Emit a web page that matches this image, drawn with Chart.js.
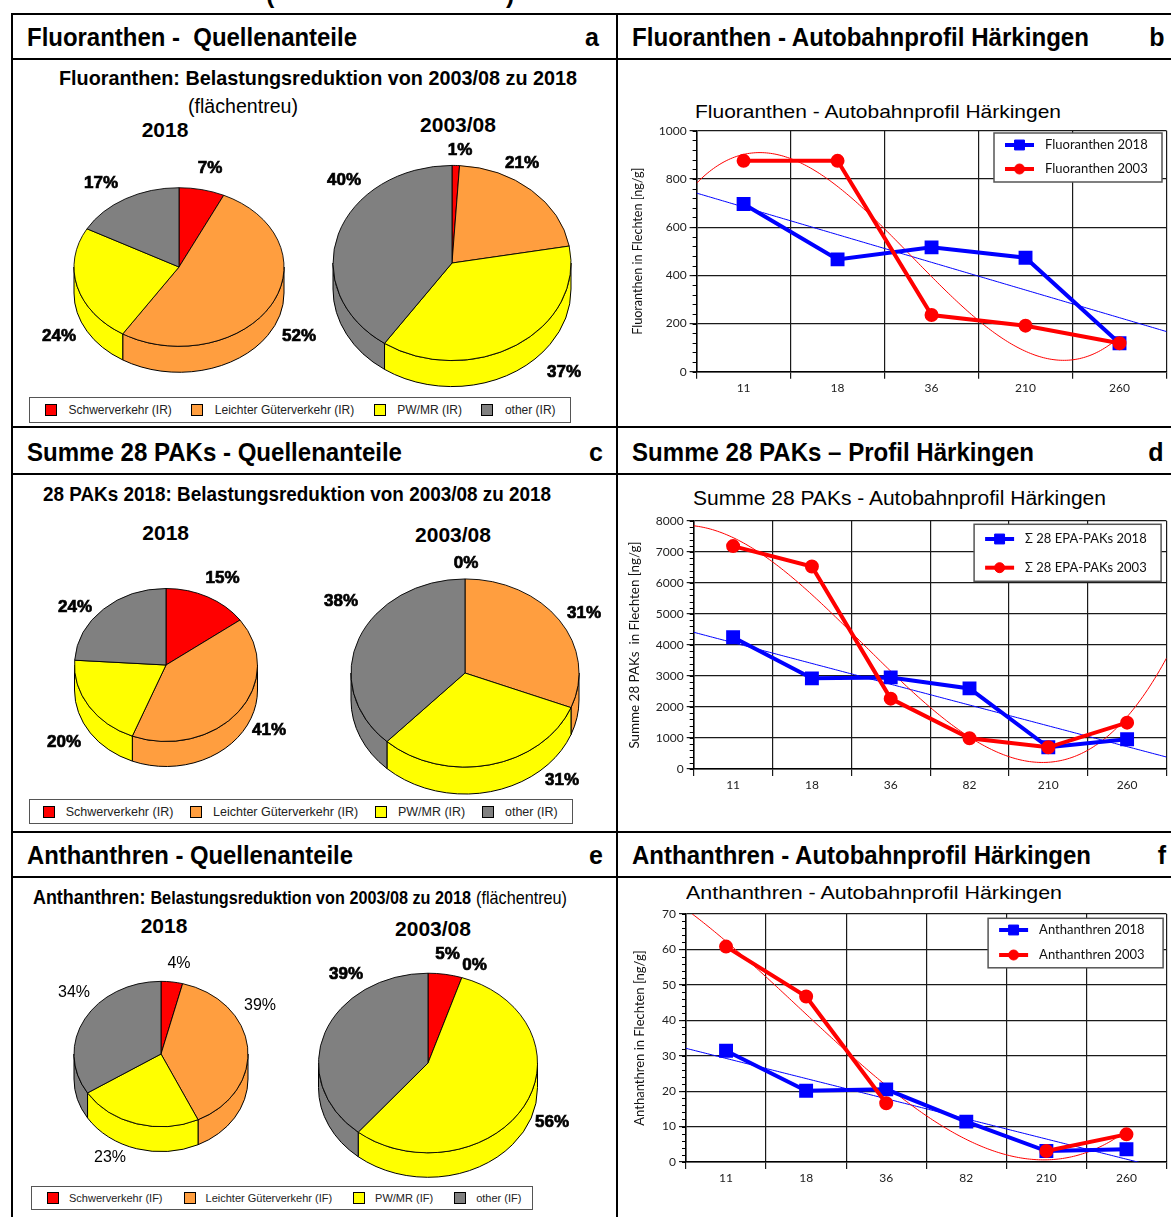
<!DOCTYPE html>
<html>
<head>
<meta charset="utf-8">
<script src="https://cdn.jsdelivr.net/npm/chart.js@4.4.1/dist/chart.umd.min.js"></script>
<style>
  html, body { margin: 0; padding: 0; background: #fff; }
  #page { position: relative; width: 1171px; height: 1217px; overflow: hidden; font-family: "Liberation Sans", Arial, sans-serif; }
  .ln { position: absolute; background: #000; }
  .tx { position: absolute; white-space: pre; transform-origin: 0 50%; color: #000; }
  canvas { position: absolute; }
  .plg { position: absolute; box-sizing: border-box; border: 1.5px solid #555; background: #fff; display: flex; align-items: center; color: #222; font-family: "Liberation Sans", Arial, sans-serif; }
  .plg .it { display: flex; align-items: center; white-space: pre; }
  .plg i { display: inline-block; width: 12px; height: 12px; border: 1px solid #000; box-sizing: border-box; }
</style>
</head>
<body>
<div id="page"></div>
<script>
// source categories of the pies
const sources = ['Schwerverkehr', 'Leichter Güterverkehr', 'PW/MR', 'other'];
const sourceColors = ['#FF0000', '#FF9E3F', '#FFFF00', '#808080'];

// shares in percent
const fluoShare2018 = [7, 52, 24, 17];
const fluoShare2003 = [1, 21, 37, 40];
const pakShare2018 = [15, 41, 20, 24];
const pakShare2003 = [0, 31, 31, 38];
const anthShare2018 = [4, 39, 23, 34];
const anthShare2003 = [5, 0, 56, 39];

// profile Härkingen, distance to the motorway
const sitesFluo = ['11', '18', '36', '210', '260'];
const fluo2018 = [696, 466, 516, 473, 118];
const fluo2003 = [875, 875, 235, 191, 118];

const sitesPak = ['11', '18', '36', '82', '210', '260'];
const pak2018 = [4250, 2925, 2955, 2600, 700, 960];
const pak2003 = [7190, 6530, 2270, 990, 700, 1495];

const sitesAnth = ['11', '18', '36', '82', '210', '260'];
const anth2018 = [31.4, 20.1, 20.5, 11.4, 3.1, 3.6];
const anth2003 = [60.8, 46.7, 16.6, null, 3.1, 7.8];

Chart.defaults.font.family = 'Lato';

const page = document.getElementById('page');

function line(left, top, width, height) {
  const el = document.createElement('div');
  el.className = 'ln';
  Object.assign(el.style, { left: left + 'px', top: top + 'px', width: width + 'px', height: height + 'px' });
  page.appendChild(el);
}

function addText(html, left, top, font, fit) {
  const el = document.createElement('div');
  el.className = 'tx';
  el.innerHTML = html;
  el.style.left = left + 'px';
  el.style.top = top + 'px';
  el.style.font = font;
  page.appendChild(el);
  if (fit) el.style.transform = `scaleX(${fit / el.getBoundingClientRect().width})`;
  return el;
}

function addCentered(html, cx, top, font) {
  const el = addText(html, 0, top, font);
  el.style.left = (cx - el.getBoundingClientRect().width / 2) + 'px';
}

// frame
line(11, 12.5, 1160, 2);
line(11, 12.5, 2, 1205);
line(616, 12.5, 2, 1205);
[58, 426, 472.5, 830.5, 876].forEach(y => line(11, y, 1160, 2));

const HEAD = 'bold 25px/25px "Liberation Sans Narrow", "Liberation Sans", sans-serif';
const SUB = 'bold 21px/21px "Liberation Sans Narrow", "Liberation Sans", sans-serif';
const SUBN = '20px/20px "Liberation Sans Narrow", "Liberation Sans", sans-serif';
const YEAR = 'bold 21px/21px "Liberation Sans", sans-serif';
const CT = '19px/19px "Liberation Sans", sans-serif';

addText('(', 266, -18, HEAD);
addText(')', 506, -18, HEAD);

addText('Fluoranthen -  Quellenanteile', 27, 24.8, HEAD, 330);
addText('Fluoranthen - Autobahnprofil Härkingen', 632, 24.8, HEAD, 457);
addText('Summe 28 PAKs - Quellenanteile', 27, 440.3, HEAD, 375);
addText('Summe 28 PAKs – Profil Härkingen', 632, 440.3, HEAD, 402);
addText('Anthanthren - Quellenanteile', 27, 843.3, HEAD, 326);
addText('Anthanthren - Autobahnprofil Härkingen', 632, 843.3, HEAD, 459);
addCentered('a', 592, 24.8, HEAD);
addCentered('b', 1157, 24.8, HEAD);
addCentered('c', 596, 440.3, HEAD);
addCentered('d', 1156, 440.3, HEAD);
addCentered('e', 596, 843.3, HEAD);
addCentered('f', 1162, 843.3, HEAD);

addText('Fluoranthen: Belastungsreduktion von 2003/08 zu 2018', 59, 67.2, SUB, 518);
addText('(flächentreu)', 188, 95.8, SUBN, 110);
addText('28 PAKs 2018: Belastungsreduktion von 2003/08 zu 2018', 43, 482.5, SUB, 508);
addText('<span style="font-size:21px">Anthanthren:</span> <span style="font-size:19px">Belastungsreduktion von 2003/08 zu 2018</span> <span style="font-weight:normal;font-size:19px">(flächentreu)</span>', 33, 885.5, SUB, 534);

addCentered('2018', 165, 119, YEAR);
addCentered('2003/08', 458, 114.2, YEAR);
addCentered('2018', 165.7, 522.2, YEAR);
addCentered('2003/08', 453, 524, YEAR);
addCentered('2018', 164, 914.5, YEAR);
addCentered('2003/08', 433, 917.9, YEAR);

addText('Fluoranthen - Autobahnprofil Härkingen', 695, 101.5, CT, 366);
addText('Summe 28 PAKs - Autobahnprofil Härkingen', 693, 487.5, '20px/20px "Liberation Sans", sans-serif', 413);
addText('Anthanthren - Autobahnprofil Härkingen', 686, 883, CT, 376);

function pieLegend(left, top, width, height, padL, gap, sqGap, fontSize, suffix) {
  const box = document.createElement('div');
  box.className = 'plg';
  Object.assign(box.style, {
    left: left + 'px', top: top + 'px', width: width + 'px', height: height + 'px',
    paddingLeft: padL + 'px', gap: gap + 'px', fontSize: fontSize + 'px'
  });
  sources.forEach((s, i) => {
    const it = document.createElement('span');
    it.className = 'it';
    it.innerHTML = `<i style="background:${sourceColors[i]};margin-right:${sqGap}px"></i>${s} (${suffix})`;
    box.appendChild(it);
  });
  page.appendChild(box);
}
pieLegend(29, 397, 542, 26, 15, 19.5, 11.5, 12, 'IR');
pieLegend(29.4, 799, 544, 25, 12.6, 17, 10.7, 12.5, 'IR');
pieLegend(31, 1186, 502, 24, 15, 21, 10, 11, 'IF');

// pie drawn flat by Chart.js, squeezed into an ellipse with a side wall
const tilt3d = {
  id: 'tilt3d',
  beforeDatasetsDraw(chart, args, o) {
    const ctx = chart.ctx;
    const arcs = chart.getDatasetMeta(0).data;
    const { x: cx, y: cy, outerRadius: r } = arcs[0];
    const ry = r * o.k;
    arcs.forEach(a => {
      const lo = Math.max(a.startAngle, 0);
      const hi = Math.min(a.endAngle, Math.PI);
      if (hi <= lo) return;
      ctx.beginPath();
      ctx.ellipse(cx, cy, r, ry, 0, lo, hi);
      ctx.ellipse(cx, cy + o.depth, r, ry, 0, hi, lo, true);
      ctx.closePath();
      ctx.fillStyle = a.options.backgroundColor;
      ctx.fill();
      ctx.lineWidth = 1;
      ctx.strokeStyle = '#000';
      ctx.stroke();
    });
    ctx.save();
    ctx.translate(cx, cy);
    ctx.scale(1, o.k);
    ctx.translate(-cx, -cy);
  },
  afterDatasetsDraw(chart, args, o) {
    const ctx = chart.ctx;
    ctx.restore();
    const { x: cx, y: cy } = chart.getDatasetMeta(0).data[0];
    ctx.save();
    ctx.textAlign = 'center';
    ctx.textBaseline = 'middle';
    ctx.fillStyle = '#000';
    ctx.strokeStyle = '#000';
    ctx.font = o.heavy ? 'bold 17px "Liberation Sans"' : '16px "Liberation Sans"';
    ctx.lineWidth = 0.7;
    chart.data.datasets[0].data.forEach((v, i) => {
      const [dx, dy] = o.at[i];
      ctx.fillText(v + '%', cx + dx, cy + dy);
      if (o.heavy) ctx.strokeText(v + '%', cx + dx, cy + dy);
    });
    ctx.restore();
  }
};

const pieSpecs = [
  { data: fluoShare2018, cx: 179, cy: 267, r: 105, k: 0.755, depth: 26, heavy: true, at: [[31, -99], [120, 69], [-120, 69], [-78, -84]] },
  { data: fluoShare2003, cx: 451.5, cy: 263, r: 119, k: 0.82, depth: 26, heavy: true, at: [[8, -113], [70, -100], [112, 109], [-108, -83]] },
  { data: pakShare2018, cx: 165.5, cy: 665, r: 91.5, k: 0.836, depth: 25, heavy: true, at: [[56.5, -87], [103, 65], [-102, 77], [-91, -58]] },
  { data: pakShare2003, cx: 465, cy: 673, r: 114, k: 0.825, depth: 27, heavy: true, at: [[1, -110], [119, -60], [97, 107], [-124, -72]] },
  { data: anthShare2018, cx: 161, cy: 1054, r: 87, k: 0.835, depth: 25, heavy: false, at: [[18, -90], [99, -48], [-51, 104], [-87, -61]] },
  { data: anthShare2003, cx: 427.5, cy: 1063, r: 109.5, k: 0.82, depth: 24.5, heavy: true, at: [[19.5, -109], [46.5, -98], [124, 59], [-82, -89]] }
];

pieSpecs.forEach(p => {
  const cv = document.createElement('canvas');
  cv.width = 320;
  cv.height = 320;
  cv.style.left = (p.cx - 160) + 'px';
  cv.style.top = (p.cy - 160) + 'px';
  page.appendChild(cv);
  new Chart(cv, {
    type: 'pie',
    data: {
      labels: sources,
      datasets: [{ data: p.data, backgroundColor: sourceColors, borderColor: '#000', borderWidth: 1 }]
    },
    options: {
      responsive: false,
      animation: false,
      radius: p.r,
      layout: { padding: 0 },
      plugins: {
        legend: { display: false },
        tooltip: { enabled: false },
        tilt3d: { k: p.k, depth: p.depth, heavy: p.heavy, at: p.at }
      }
    },
    plugins: [tilt3d]
  });
});

// least squares polynomial, coefficients from low to high order
function polyFit(xs, ys, deg) {
  const n = deg + 1;
  const A = Array.from({ length: n }, () => new Array(n + 1).fill(0));
  xs.forEach((x, k) => {
    for (let i = 0; i < n; i++) {
      for (let j = 0; j < n; j++) A[i][j] += Math.pow(x, i + j);
      A[i][n] += ys[k] * Math.pow(x, i);
    }
  });
  for (let i = 0; i < n; i++) {
    let p = i;
    for (let r = i + 1; r < n; r++) if (Math.abs(A[r][i]) > Math.abs(A[p][i])) p = r;
    [A[i], A[p]] = [A[p], A[i]];
    for (let r = 0; r < n; r++) {
      if (r === i) continue;
      const f = A[r][i] / A[i][i];
      for (let c = i; c <= n; c++) A[r][c] -= f * A[i][c];
    }
  }
  return A.map((row, i) => row[n] / row[i]);
}

const trend = {
  id: 'trend',
  beforeDatasetsDraw(chart, args, o) {
    const { ctx, chartArea: ca, scales: { x, y } } = chart;
    ctx.save();
    ctx.beginPath();
    ctx.rect(ca.left, ca.top, ca.right - ca.left, ca.bottom - ca.top);
    ctx.clip();
    o.fits.forEach(f => {
      const ds = chart.data.datasets[f.dataset];
      const xs = [], ys = [];
      ds.data.forEach((v, i) => { if (v !== null) { xs.push(i); ys.push(v); } });
      const c = polyFit(xs, ys, f.degree);
      ctx.beginPath();
      for (let s = 0; s <= 200; s++) {
        const t = f.from + (f.to - f.from) * s / 200;
        const v = c.reduce((acc, ci, i) => acc + ci * Math.pow(t, i), 0);
        const px = x.getPixelForValue(t), py = y.getPixelForValue(v);
        if (s) ctx.lineTo(px, py); else ctx.moveTo(px, py);
      }
      ctx.strokeStyle = ds.borderColor;
      ctx.lineWidth = 1;
      ctx.stroke();
    });
    ctx.restore();
  }
};

const minorTicks = {
  id: 'minorTicks',
  afterDraw(chart, args, o) {
    const { ctx, scales: { y } } = chart;
    ctx.save();
    ctx.strokeStyle = '#000';
    ctx.lineWidth = 1;
    for (let v = y.min; v <= y.max + 1e-9; v += o.step) {
      const py = Math.round(y.getPixelForValue(v)) + 0.5;
      ctx.beginPath();
      ctx.moveTo(y.right - 4, py);
      ctx.lineTo(y.right, py);
      ctx.stroke();
    }
    ctx.restore();
  }
};

const boxLegend = {
  id: 'boxLegend',
  afterDraw(chart, args, o) {
    const { ctx, chartArea: ca } = chart;
    const x0 = ca.right - o.right - o.width, y0 = ca.top + o.top;
    ctx.save();
    ctx.fillStyle = '#fff';
    ctx.fillRect(x0, y0, o.width, o.height);
    ctx.strokeStyle = '#555';
    ctx.lineWidth = 1.5;
    ctx.strokeRect(x0, y0, o.width, o.height);
    chart.data.datasets.forEach((ds, i) => {
      const ly = y0 + o.first + i * o.gap;
      ctx.strokeStyle = ds.borderColor;
      ctx.lineWidth = 4;
      ctx.beginPath();
      ctx.moveTo(x0 + 11, ly);
      ctx.lineTo(x0 + 40, ly);
      ctx.stroke();
      ctx.fillStyle = ds.backgroundColor;
      ctx.lineWidth = 1;
      Chart.helpers.drawPoint(ctx, { pointStyle: ds.pointStyle, radius: ds.pointRadius, borderWidth: 1, rotation: 0 }, x0 + 25.5, ly);
      ctx.fillStyle = '#111';
      ctx.font = '13px Lato';
      ctx.textBaseline = 'middle';
      ctx.fillText(ds.label, x0 + 51, ly);
    });
    ctx.restore();
  }
};

function profileChart(o) {
  const cv = document.createElement('canvas');
  cv.width = 552;
  cv.height = o.height;
  cv.style.left = '619px';
  cv.style.top = o.top + 'px';
  page.appendChild(cv);
  const n = o.sites.length;
  const grid = { color: '#1a1a1a', lineWidth: 1.2, tickLength: 7 };
  new Chart(cv, {
    type: 'line',
    data: {
      labels: o.sites,
      datasets: [
        { label: o.names[0], data: o.y2018, borderColor: '#0000FF', backgroundColor: '#0000FF', borderWidth: 4, pointStyle: 'rect', pointRadius: 7, order: 1 },
        { label: o.names[1], data: o.y2003, borderColor: '#FF0000', backgroundColor: '#FF0000', borderWidth: 4, pointStyle: 'circle', pointRadius: 5, order: 0 }
      ]
    },
    options: {
      responsive: false,
      animation: false,
      layout: { autoPadding: false, padding: { top: o.padTop, right: 4.5, left: 0, bottom: 0 } },
      plugins: {
        legend: { display: false },
        tooltip: { enabled: false },
        trend: { fits: [
          { dataset: 0, degree: 1, from: -0.5, to: n - 0.5 },
          { dataset: 1, degree: 3, from: -0.5, to: o.redTo }
        ] },
        minorTicks: { step: o.step / 5 },
        boxLegend: o.legend
      },
      scales: {
        x: {
          offset: true,
          grid: { ...grid, offset: true },
          border: { color: '#000', width: 1.5 },
          ticks: { color: '#222', font: { size: 12 }, padding: 2, autoSkip: false, maxRotation: 0 },
          afterFit: s => { s.height = o.xH; }
        },
        y: {
          min: 0,
          max: o.yMax,
          grid,
          border: { color: '#000', width: 1.5 },
          ticks: { stepSize: o.step, color: '#222', font: { size: 12 }, padding: 3, callback: v => String(v) },
          title: { display: true, text: o.yTitle, color: '#111', font: { size: o.titleSize }, padding: { top: o.titlePad, bottom: 0 } },
          afterFit: s => { s.width = o.yW; }
        }
      }
    },
    plugins: [trend, minorTicks, boxLegend]
  });
}

profileChart({
  top: 61, height: 366, padTop: 69.7, xH: 55.3, yW: 77.6, titlePad: 11.4, titleSize: 12.6,
  sites: sitesFluo, y2018: fluo2018, y2003: fluo2003,
  names: ['Fluoranthen 2018', 'Fluoranthen 2003'],
  yMax: 1000, step: 200, redTo: 4,
  yTitle: 'Fluoranthen in Flechten [ng/g]',
  legend: { right: 4.5, width: 168, top: 2.3, height: 49, first: 12, gap: 24 }
});

profileChart({
  top: 476, height: 352, padTop: 45, xH: 59, yW: 74.7, titlePad: 7.5, titleSize: 13.4,
  sites: sitesPak, y2018: pak2018, y2003: pak2003,
  names: ['Σ 28 EPA-PAKs 2018', 'Σ 28 EPA-PAKs 2003'],
  yMax: 8000, step: 1000, redTo: 5.5,
  yTitle: 'Summe 28 PAKs  in Flechten [ng/g]',
  legend: { right: 5.4, width: 187, top: 3.3, height: 57, first: 14.7, gap: 28.7 }
});

profileChart({
  top: 879, height: 338, padTop: 35, xH: 55, yW: 67, titlePad: 13.2, titleSize: 13,
  sites: sitesAnth, y2018: anth2018, y2003: anth2003,
  names: ['Anthanthren 2018', 'Anthanthren 2003'],
  yMax: 70, step: 10, redTo: 5,
  yTitle: 'Anthanthren in Flechten [ng/g]',
  legend: { right: 3.4, width: 175, top: 4.3, height: 49.5, first: 11.7, gap: 25 }
});
</script>
</body>
</html>
